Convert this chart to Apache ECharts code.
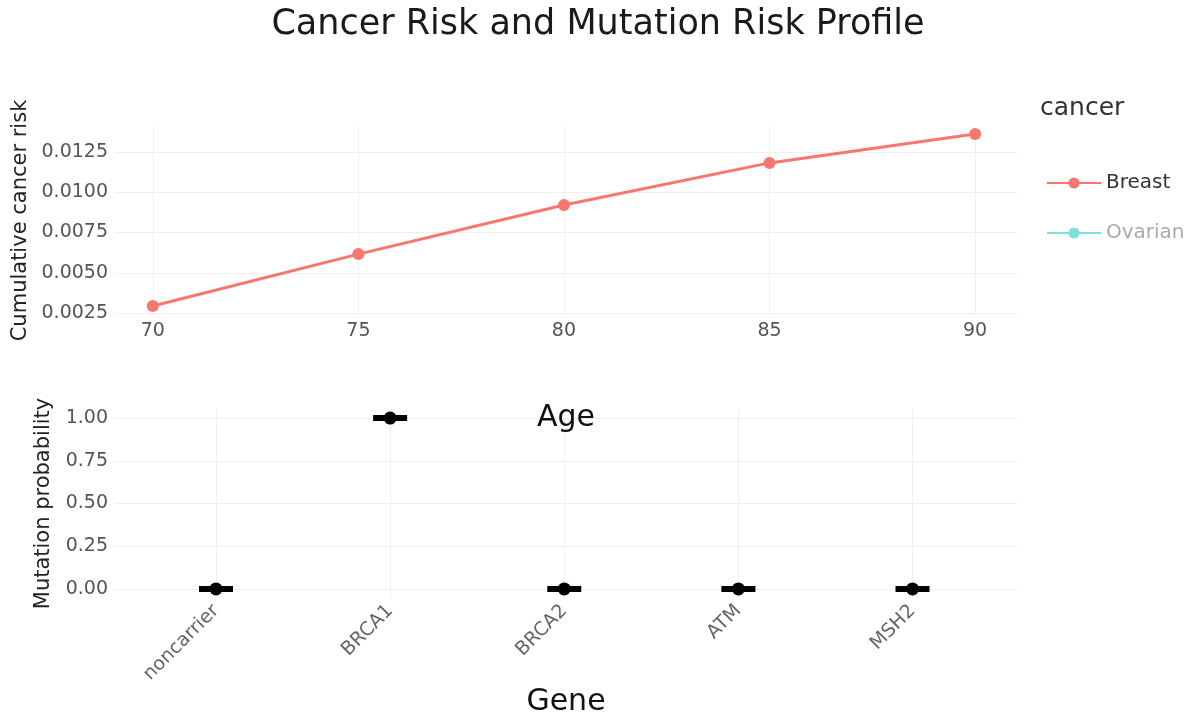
<!DOCTYPE html>
<html>
<head>
<meta charset="utf-8">
<script src="https://cdn.jsdelivr.net/npm/echarts@6/dist/echarts.min.js"></script>
<style>
  html, body { margin: 0; padding: 0; background: #fff; }
  #main { width: 1196px; height: 721px; }
</style>
</head>
<body>
<div id="main"></div>
<script>
// data
var ages = [70, 75, 80, 85, 90];
var breastRisk = [0.00294, 0.00616, 0.00921, 0.01182, 0.01362];
var ovarianRisk = [];
var genes = ['noncarrier', 'BRCA1', 'BRCA2', 'ATM', 'MSH2'];
var mutationProb = [0, 1, 0, 0, 0];

var FONT = 'DejaVu Sans';
var gridColor = '#efefef';
var tickSize = 19;

var chartDom = document.getElementById('main');
var myChart = echarts.init(chartDom);

var breastData = ages.map(function (a, i) { return [a, breastRisk[i]]; });
var geneData = genes.map(function (g, i) { return [i, mutationProb[i]]; });

var option = {
    animation: false,
    textStyle: { fontFamily: FONT },
    title: [
        {
            text: 'Cancer Risk and Mutation Risk Profile',
            left: 'center', top: 2,
            textStyle: { fontFamily: FONT, fontSize: 35, fontWeight: 'normal', color: '#1a1a1a' }
        },
        {
            text: 'cancer',
            left: 1035, top: 91,
            textStyle: { fontFamily: FONT, fontSize: 25, fontWeight: 'normal', color: '#333' }
        }
    ],
    legend: {
        orient: 'vertical',
        left: 1041, top: 168,
        itemWidth: 54, itemHeight: 14, itemGap: 30,
        textStyle: { fontFamily: FONT, fontSize: 20, color: '#333' },
        data: [
            { name: 'Breast' },
            { name: 'Ovarian', textStyle: { color: '#aaaaaa' } }
        ],
        selectedMode: false
    },
    grid: [
        { left: 115, right: 179, top: 126, height: 189 },
        { left: 115, right: 179, top: 409, height: 189 }
    ],
    xAxis: [
        {
            gridIndex: 0, type: 'value',
            min: 69.08, max: 91.02, minInterval: 5, maxInterval: 5,
            name: 'Age', nameLocation: 'middle', nameGap: 88,
            nameTextStyle: { fontFamily: FONT, fontSize: 30, color: '#111' },
            axisLine: { show: false }, axisTick: { show: false },
            axisLabel: { showMinLabel: false, showMaxLabel: false, fontSize: tickSize, color: '#555', margin: 7 },
            splitLine: { show: true, showMinLine: false, showMaxLine: false, lineStyle: { color: gridColor } }
        },
        {
            gridIndex: 1, type: 'value',
            min: -0.58, max: 4.6, minInterval: 1, maxInterval: 1,
            name: 'Gene', nameLocation: 'middle', nameGap: 87,
            nameTextStyle: { fontFamily: FONT, fontSize: 30, color: '#111' },
            axisLine: { show: false }, axisTick: { show: false },
            axisLabel: {
                showMinLabel: false, showMaxLabel: false, rotate: 45, fontSize: tickSize, color: '#666', margin: 10,
                formatter: function (v) { return genes[Math.round(v)] || ''; }
            },
            splitLine: { show: true, showMinLine: false, showMaxLine: false, lineStyle: { color: gridColor } }
        }
    ],
    yAxis: [
        {
            gridIndex: 0, type: 'value',
            min: 0.00238, max: 0.01411, minInterval: 0.0025, maxInterval: 0.0025,
            name: 'Cumulative cancer risk', nameLocation: 'middle', nameGap: 84,
            nameTextStyle: { fontFamily: FONT, fontSize: 21, color: '#222' },
            axisLine: { show: false }, axisTick: { show: false },
            axisLabel: {
                showMinLabel: false, showMaxLabel: false, fontSize: tickSize, color: '#555', margin: 7,
                formatter: function (v) { return v.toFixed(4); }
            },
            splitLine: { show: true, showMinLine: false, showMaxLine: false, lineStyle: { color: gridColor } }
        },
        {
            gridIndex: 1, type: 'value',
            min: -0.053, max: 1.053, minInterval: 0.25, maxInterval: 0.25,
            name: 'Mutation probability', nameLocation: 'middle', nameGap: 61,
            nameTextStyle: { fontFamily: FONT, fontSize: 21, color: '#222' },
            axisLine: { show: false }, axisTick: { show: false },
            axisLabel: {
                showMinLabel: false, showMaxLabel: false, fontSize: tickSize, color: '#555', margin: 7,
                formatter: function (v) { return v.toFixed(2); }
            },
            splitLine: { show: true, showMinLine: false, showMaxLine: false, lineStyle: { color: gridColor } }
        }
    ],
    series: [
        {
            name: 'Breast', type: 'line', xAxisIndex: 0, yAxisIndex: 0,
            data: breastData,
            symbol: 'circle', symbolSize: 12,
            itemStyle: { color: '#F8766D' },
            lineStyle: { color: '#F8766D', width: 3 }
        },
        {
            name: 'Ovarian', type: 'line', xAxisIndex: 0, yAxisIndex: 0,
            data: ovarianRisk,
            symbol: 'circle', symbolSize: 12,
            itemStyle: { color: '#80DEE2' },
            lineStyle: { color: '#80DEE2', width: 3 }
        },
        {
            name: 'cap', type: 'scatter', xAxisIndex: 1, yAxisIndex: 1,
            data: geneData, symbol: 'rect', symbolSize: [34, 6],
            itemStyle: { color: '#000', opacity: 1 }, z: 3
        },
        {
            name: 'prob', type: 'scatter', xAxisIndex: 1, yAxisIndex: 1,
            data: geneData, symbol: 'circle', symbolSize: 13,
            itemStyle: { color: '#000', opacity: 1 }, z: 4
        }
    ]
};

option && myChart.setOption(option);
</script>
</body>
</html>
